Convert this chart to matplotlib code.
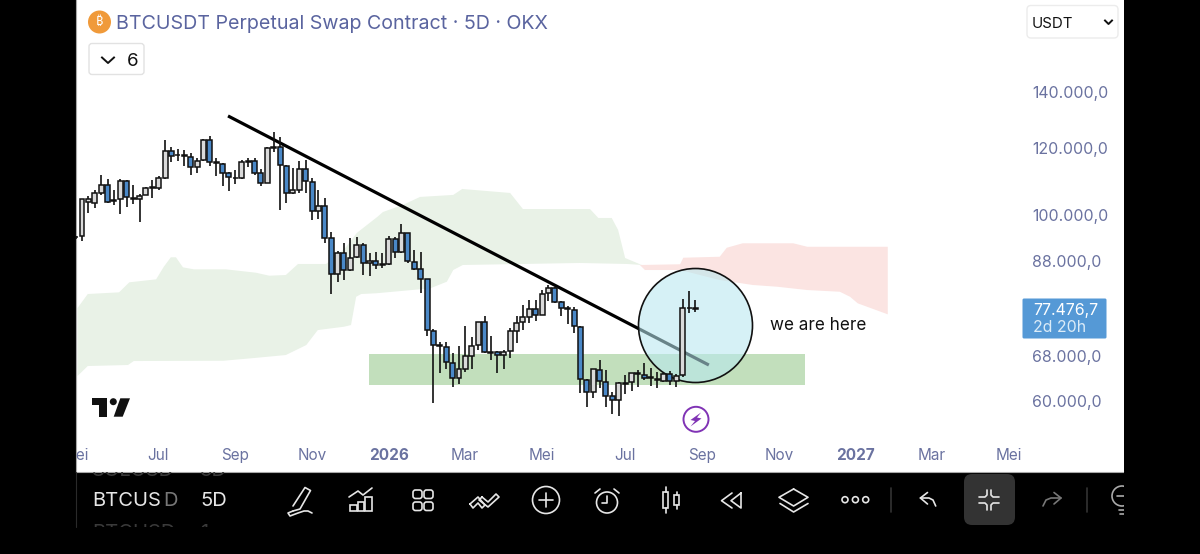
import matplotlib
matplotlib.use('Agg')
import matplotlib.pyplot as plt
from matplotlib.patches import Circle, FancyBboxPatch, Polygon, Rectangle
from matplotlib.transforms import blended_transform_factory
from matplotlib.ticker import NullLocator
import numpy as np

plt.rcParams['font.family'] = ['Inter', 'DejaVu Sans']

# 5D candles, the first one sits just off the left edge
opens = [94100, 94450, 103500, 103390, 106260, 108440, 104150, 104350, 109710, 104800, 104350, 105690, 107620,
         107620, 110690, 119210, 117960, 117830, 117270, 113920, 116210, 122750, 115590, 114860, 112060, 110510,
         110600, 115590, 115900, 112060, 109210, 120220, 120540, 114420, 106090, 107040, 113470, 109500, 101060,
         102540, 93780, 84970, 90000, 85970, 89020, 92070, 87570, 88190, 87240, 87330, 93520, 90250,
         95080, 87950, 86280, 83870, 72790, 69930, 69550, 66690, 63940, 65600, 67950, 70000, 74490,
         68730, 68620, 68170, 68860, 72790, 74620, 75650, 77310, 76060, 80720, 81760, 78750, 77400,
         76960, 73580, 63600, 61500, 65370, 63310, 60880, 60160, 62950, 63200, 64610, 64430, 63940,
         63550, 63430, 64610, 63430, 64490, 77400, 77250]
highs = [94400, 104450, 105310, 107040, 111540, 110310, 107040, 110310, 110010, 108520, 105880, 108000, 110010,
         111290, 122750, 120540, 119670, 119440, 118370, 116760, 122980, 124090, 116950, 115170, 112460, 113070,
         116210, 116950, 116760, 113280, 120310, 125590, 123650, 114640, 113590, 115990, 116210, 110510, 107040,
         104800, 95490, 90570, 92660, 93770, 94190, 92500, 90150, 90250, 90000, 94450, 94190, 97530,
         95230, 90810, 90250, 83930, 73070, 70640, 70520, 68430, 69860, 73770, 71480, 74620, 75790,
         71720, 68810, 69050, 73260, 75790, 78100, 79180, 79180, 81380, 82510, 82120, 78970, 77870,
         77770, 73740, 63720, 65600, 67180, 65370, 61600, 63200, 64480, 64890, 65370, 66690, 65670,
         65070, 64890, 65250, 64610, 79330, 81230, 79180]
lows = [93500, 93100, 100590, 101890, 105600, 103300, 102740, 100240, 102260, 103020, 98060, 105510, 104800,
        107040, 110310, 115490, 115900, 114330, 111540, 112060, 115990, 114330, 111320, 108320, 106840, 108820,
        110310, 113920, 111540, 108230, 109030, 118890, 101330, 103220, 105880, 106090, 106090, 98590, 98860,
        92660, 80500, 83260, 83640, 85810, 88850, 84800, 84610, 86130, 86520, 87160, 88920, 90000,
        87570, 85970, 80790, 71750, 59770, 64890, 65550, 62340, 62910, 65070, 65490, 69050, 68430,
        67180, 64890, 65490, 67600, 70330, 72930, 74410, 74820, 75940, 79030, 78470, 75850, 74150,
        72280, 61330, 59020, 60590, 62170, 59020, 57940, 57700, 61160, 61760, 62450, 63600, 62570,
        62170, 63310, 62740, 62450, 64080, 76480, 76690]
closes = [94200, 104350, 104350, 106260, 108440, 103670, 103730, 109800, 105020, 104350, 105390, 107710, 107910,
          110600, 119210, 117500, 117770, 117600, 113920, 115990, 122750, 115680, 115170, 112150, 110840, 110690,
          115490, 115900, 112150, 109210, 119990, 120540, 114640, 106090, 106950, 113470, 109800, 101060, 102540,
          93940, 84970, 90150, 85970, 88780, 91990, 87570, 88190, 87090, 87480, 93520, 90250, 95080,
          88190, 86280, 83930, 72930, 69930, 69740, 66870, 63940, 65490, 67900, 69860, 74490, 68730,
          68540, 68110, 68730, 72730, 74410, 75520, 77310, 76060, 80500, 81830, 78820, 77400, 77250,
          73740, 63720, 61600, 65490, 63480, 60930, 60160, 63030, 63080, 64790, 64790, 63940, 64060,
          63720, 64660, 63380, 64360, 77400, 77520, 77470]

# ichimoku cloud edges, x in candle numbers
green_upper_x = [-0.7, 0.9, 5.8, 7.4, 11.6, 12.8, 13.9, 14.7, 15.8, 17.5, 22.5, 27.2, 29.3, 31.9, 33.8, 38.2, 41.2,
                 43.0, 46.2, 47.1, 50.2, 52.9, 58.1, 59.5, 67.0, 69.0, 79.5, 80.8, 82.9, 83.9, 85.0, 87.6]
green_upper_y = [77470, 80500, 80870, 83120, 83800, 86740, 89020, 89020, 86600, 86130, 86130, 85340, 84640, 84800,
                 87400, 87400, 91320, 95150, 99410, 100780, 102740, 105020, 105600, 107330, 106170, 101600, 101600,
                 99140, 99140, 95930, 88840, 87160]
green_lower_x = [-0.7, 0.9, 7.2, 8.1, 22.1, 26.8, 31.9, 35.1, 36.9, 41.0, 42.1, 42.9, 43.7, 46.0, 54.5, 57.1, 58.1,
                 59.6, 77.9, 85.3, 87.6]
green_lower_y = [64310, 66090, 66275, 67000, 67050, 67540, 68110, 70000, 72930, 73600, 73940, 79890, 80500, 80660,
                 81760, 83260, 85970, 87160, 87640, 87400, 87160]
red_upper_x = [87.3, 93.6, 94.1, 99.8, 100.9, 103.4, 111.3, 113.5, 126.1]
red_upper_y = [87160, 87330, 88910, 89150, 91370, 92500, 92500, 91620, 91620]
red_lower_x = [88.1, 93.6, 99.8, 105.0, 108.8, 113.5, 118.6, 120.2, 121.4, 126.1]
red_lower_y = [85970, 85970, 83640, 82510, 82120, 81380, 81000, 79890, 78470, 76140]

# drawn on the chart
trend_x = [22.85, 98.1]
trend_y = [131100, 66270]
zone_x = [44.9, 113.1]
zone_y = [62740, 68310]

price_ticks = [60000, 68000, 88000, 100000, 120000, 140000]
price_labels = ['60.000,0', '68.000,0', '88.000,0', '100.000,0', '120.000,0', '140.000,0']
month_ticks = [11.9, 23.9, 36.0, 48.0, 59.9, 72.0, 85.0, 97.0, 109.1, 121.1, 133.0, 145.1]
month_labels = ['Jul', 'Sep', 'Nov', '2026', 'Mar', 'Mei', 'Jul', 'Sep', 'Nov', '2027', 'Mar', 'Mei']

AXIS_COLOR = '#6a72a0'
ICON = '#e6e6e6'

fig = plt.figure(figsize=(12, 5.54), dpi=100, facecolor='black')
ax = fig.add_axes([76 / 1200, 1 - 472 / 554, 1048 / 1200, 472 / 554], facecolor='white')
ui = fig.add_axes([0, 0, 1, 1], zorder=5)   # pixel coordinates, for the app chrome
ui.set_xlim(0, 1200)
ui.set_ylim(554, 0)
ui.axis('off')

ax.set_yscale('log')
ax.set_ylim(49440, 180100)
ax.set_xlim(-0.94, 163.07)

# clouds
ax.fill(green_upper_x + green_lower_x[::-1], green_upper_y + green_lower_y[::-1], color='#e9f2e7', lw=0, zorder=1)
ax.fill(red_upper_x + red_lower_x[::-1], red_upper_y + red_lower_y[::-1], color='#fbe4e2', lw=0, zorder=1)

ax.add_patch(Rectangle((zone_x[0], zone_y[0]), zone_x[1] - zone_x[0], zone_y[1] - zone_y[0],
                       color='#c2dfbc', lw=0, zorder=1.5))
ax.plot(trend_x, trend_y, color='black', lw=2.3, zorder=2, solid_capstyle='butt')

# the circle is placed in pixels
ax.add_patch(Circle((695.5, 325.5), 57, transform=ui.transData, facecolor=(184 / 255, 232 / 255, 240 / 255, 0.57),
                    edgecolor='#111111', lw=1.2, zorder=3))

# candles
idx = np.arange(len(opens)) - 1
o = np.array(opens)
c = np.array(closes)
body_colors = ['#4a88c7' if a < b else '#dadada' for a, b in zip(c, o)]
ax.vlines(idx, lows, highs, color='#111111', lw=1.2, zorder=4)
ax.bar(idx, np.abs(c - o), bottom=np.minimum(o, c), width=0.78, color=body_colors, edgecolor='#111111', lw=1.1, zorder=5)

# axes
for side in ['top', 'right']:
    ax.spines[side].set_visible(False)
ax.spines['left'].set_color('#a8a8a8')
ax.spines['bottom'].set_color('#a8a8a8')
ax.yaxis.tick_right()
ax.set_yticks(price_ticks, price_labels)
ax.yaxis.set_minor_locator(NullLocator())
ax.tick_params(axis='y', length=0, pad=-66, labelsize=11.4, labelcolor=AXIS_COLOR)
ax.set_xticks(month_ticks, month_labels)
ax.tick_params(axis='x', length=0, pad=-17.5, labelsize=11, labelcolor=AXIS_COLOR)
for lab in ax.get_xticklabels():
    if lab.get_text() in ('2026', '2027'):
        lab.set_fontweight('bold')
ax.text(-1.0, 455, 'Mei', transform=blended_transform_factory(ax.transData, ui.transData),
        ha='center', va='center', fontsize=11, color=AXIS_COLOR, clip_on=True)

# header
ui.add_patch(Circle((99.5, 22), 11.5, color='#f09a3a', lw=0))
ui.text(99.5, 22, '₿', ha='center', va='center', fontsize=9, color='white', fontweight='bold',
        family=['Noto Sans', 'Roboto', 'Open Sans', 'Lato', 'Liberation Sans', 'DejaVu Sans'])
ui.text(116, 24, 'BTCUSDT Perpetual Swap Contract · 5D · OKX', ha='left', va='center', fontsize=14.15, color='#5a649f')
ui.add_patch(FancyBboxPatch((89, 43.5), 55, 31, boxstyle='round,pad=0,rounding_size=3', fc='white', ec='#e2e2e2', lw=1))
ui.plot([102, 108, 114], [57.5, 63, 57.5], color='#111111', lw=1.4)
ui.text(133, 61.5, '6', ha='center', va='center', fontsize=13.5, color='#111111')
ui.add_patch(FancyBboxPatch((1027, 5.5), 91, 32.5, boxstyle='round,pad=0,rounding_size=4', fc='white', ec='#ececec', lw=1))
ui.text(1032, 23.5, 'USDT', ha='left', va='center', fontsize=10.8, color='#111111')
ui.plot([1105, 1108.5, 1112], [20.5, 24, 20.5], color='#111111', lw=1.4)

# last price tag
ui.add_patch(FancyBboxPatch((1022.5, 298.5), 84, 40, boxstyle='round,pad=0,rounding_size=1.5', fc='#5599d6', lw=0))
ui.text(1033, 310.5, '77.476,7', ha='left', va='center', fontsize=11.4, color='white')
ui.text(1033, 328, '2d 20h', ha='left', va='center', fontsize=11.4, color='#dcecf8')

ui.text(769.5, 326, 'we are here', ha='left', va='center', fontsize=12.3, color='#111111')

# tradingview logo
ui.add_patch(Polygon([(91.7, 398.3), (107, 398.3), (107, 416.7), (99.3, 416.7), (99.3, 405), (91.7, 405)], color='#111111', lw=0))
ui.add_patch(Circle((113.3, 401.7), 3.5, color='#111111', lw=0))
ui.add_patch(Polygon([(120.3, 398.3), (130, 398.3), (122.7, 416.7), (113.7, 416.7)], color='#111111', lw=0))

# lightning marker
ui.add_patch(Circle((696, 419.3), 12.5, fc='white', ec='#8033b5', lw=1.4))
ui.add_patch(Polygon([(701, 412.5), (690.5, 420), (695, 421), (690.5, 426.5), (701.5, 418.5), (697, 417.5)], color='#8033b5', lw=0))

# symbol picker in the bottom bar
ui.text(92, 501, 'BTCUS', ha='left', va='center', fontsize=14.5, color='#e6e6e6')
ui.text(163, 501, 'D', ha='left', va='center', fontsize=14.5, color='#777777')
ui.text(200, 501, '5D', ha='left', va='center', fontsize=14.5, color='#e6e6e6')
band = Rectangle((76, 472), 1048, 55, transform=ui.transData)
for tx, ty, s in [(92, 471, 'SOLUSD'), (200, 471, '3D'), (92, 533, 'BTCUSD'), (200, 533, '1m')]:
    t = ui.text(tx, ty, s, ha='left', va='center', fontsize=14.5, color='#3a3a3a')
    t.set_clip_on(True)
    t.set_clip_path(band)

def stroke(xs, ys, color=ICON, lw=1.2, close=False):
    if close:
        xs = xs + xs[:1]
        ys = ys + ys[:1]
    ui.plot(xs, ys, color=color, lw=lw, solid_capstyle='round', solid_joinstyle='round')

# pen
stroke([293, 305, 310.5, 300, 293], [506, 487.5, 490.5, 509, 511])
stroke([293, 288, 290, 298, 304, 308, 312], [511, 513, 516, 513, 511, 511, 513])
# indicators
stroke([349, 358, 363, 372], [497, 491, 495, 488])
for bx, by, bw in [(350, 505, 7), (358, 502, 6), (365, 497, 7)]:
    ui.add_patch(Rectangle((bx, by), bw, 511 - by, fc='none', ec=ICON, lw=1.2))
# templates
for bx in [413, 424]:
    for by in [490, 502]:
        ui.add_patch(FancyBboxPatch((bx, by), 9, 8.5, boxstyle='round,pad=0,rounding_size=2.5', fc='none', ec=ICON, lw=1.2))
# compare
stroke([470, 478, 485, 482, 478, 473], [504, 497, 505, 508, 503, 508], close=True)
stroke([482, 488, 496, 499, 488, 479], [497, 502, 494, 497, 507, 500], close=True)
# add
ui.add_patch(Circle((546, 500), 13.5, fc='none', ec=ICON, lw=1.2))
stroke([539, 553], [500, 500])
stroke([546, 546], [493, 507])
# alert
ui.add_patch(Circle((607, 502.5), 10.5, fc='none', ec=ICON, lw=1.2))
stroke([607, 607, 602], [496, 503, 503])
stroke([595, 600], [493, 489])
stroke([614, 619], [489, 493])
# bar style
ui.add_patch(Rectangle((663, 492), 5, 16, fc='none', ec=ICON, lw=1.2))
stroke([665.5, 665.5], [487, 492])
stroke([665.5, 665.5], [508, 513])
ui.add_patch(Rectangle((674, 495), 5, 10, fc='none', ec=ICON, lw=1.2))
stroke([676.5, 676.5], [492, 495])
stroke([676.5, 676.5], [505, 509])
# replay
stroke([732, 721.5, 732], [493, 500.7, 508])
stroke([741, 731, 741], [493, 500.7, 508], close=True)
# layers
stroke([793.6, 808, 793.6, 779], [489, 497.3, 506, 497.3], close=True)
stroke([780, 793.6, 808], [503.5, 512, 503.5])
# more
for dx in [845, 855.4, 865.7]:
    ui.add_patch(Circle((dx, 499.7), 3, fc='none', ec=ICON, lw=1.2))
stroke([891, 891], [488, 512], color='#333333')
stroke([1087, 1087], [488, 512], color='#333333')
# undo and redo
stroke([935.7, 933, 929, 920.4], [506, 500, 498, 498])
stroke([927.5, 920.4, 927.5], [492.5, 498, 504])
stroke([1043, 1046, 1051, 1061], [506, 500, 498, 498], color='#777777')
stroke([1054, 1061, 1054], [492.5, 498, 504], color='#777777')
# fullscreen toggle
ui.add_patch(FancyBboxPatch((964, 474), 51, 51, boxstyle='round,pad=0,rounding_size=8', fc='#333333', lw=0))
stroke([979, 985, 987, 987], [497, 497, 495, 490])
stroke([991, 991, 993, 999], [490, 495, 497, 497])
stroke([979, 985, 987, 987], [503, 503, 505, 510])
stroke([991, 991, 993, 999], [510, 505, 503, 503])
# bulb, cut off by the edge of the app
ui.add_patch(Circle((1122, 496), 10, fc='none', ec='#aaaaaa', lw=1.2))
stroke([1117, 1126], [496, 496], color='#aaaaaa')
stroke([1119, 1126], [510, 510], color='#aaaaaa')
stroke([1120, 1126], [514, 514], color='#aaaaaa')
ui.add_patch(Rectangle((1124, 472), 76, 82, fc='black', lw=0, zorder=6))
stroke([76, 76], [472, 527], color='#2a2a2a', lw=0.8)

fig.savefig('out.png', dpi=100, facecolor='black')
